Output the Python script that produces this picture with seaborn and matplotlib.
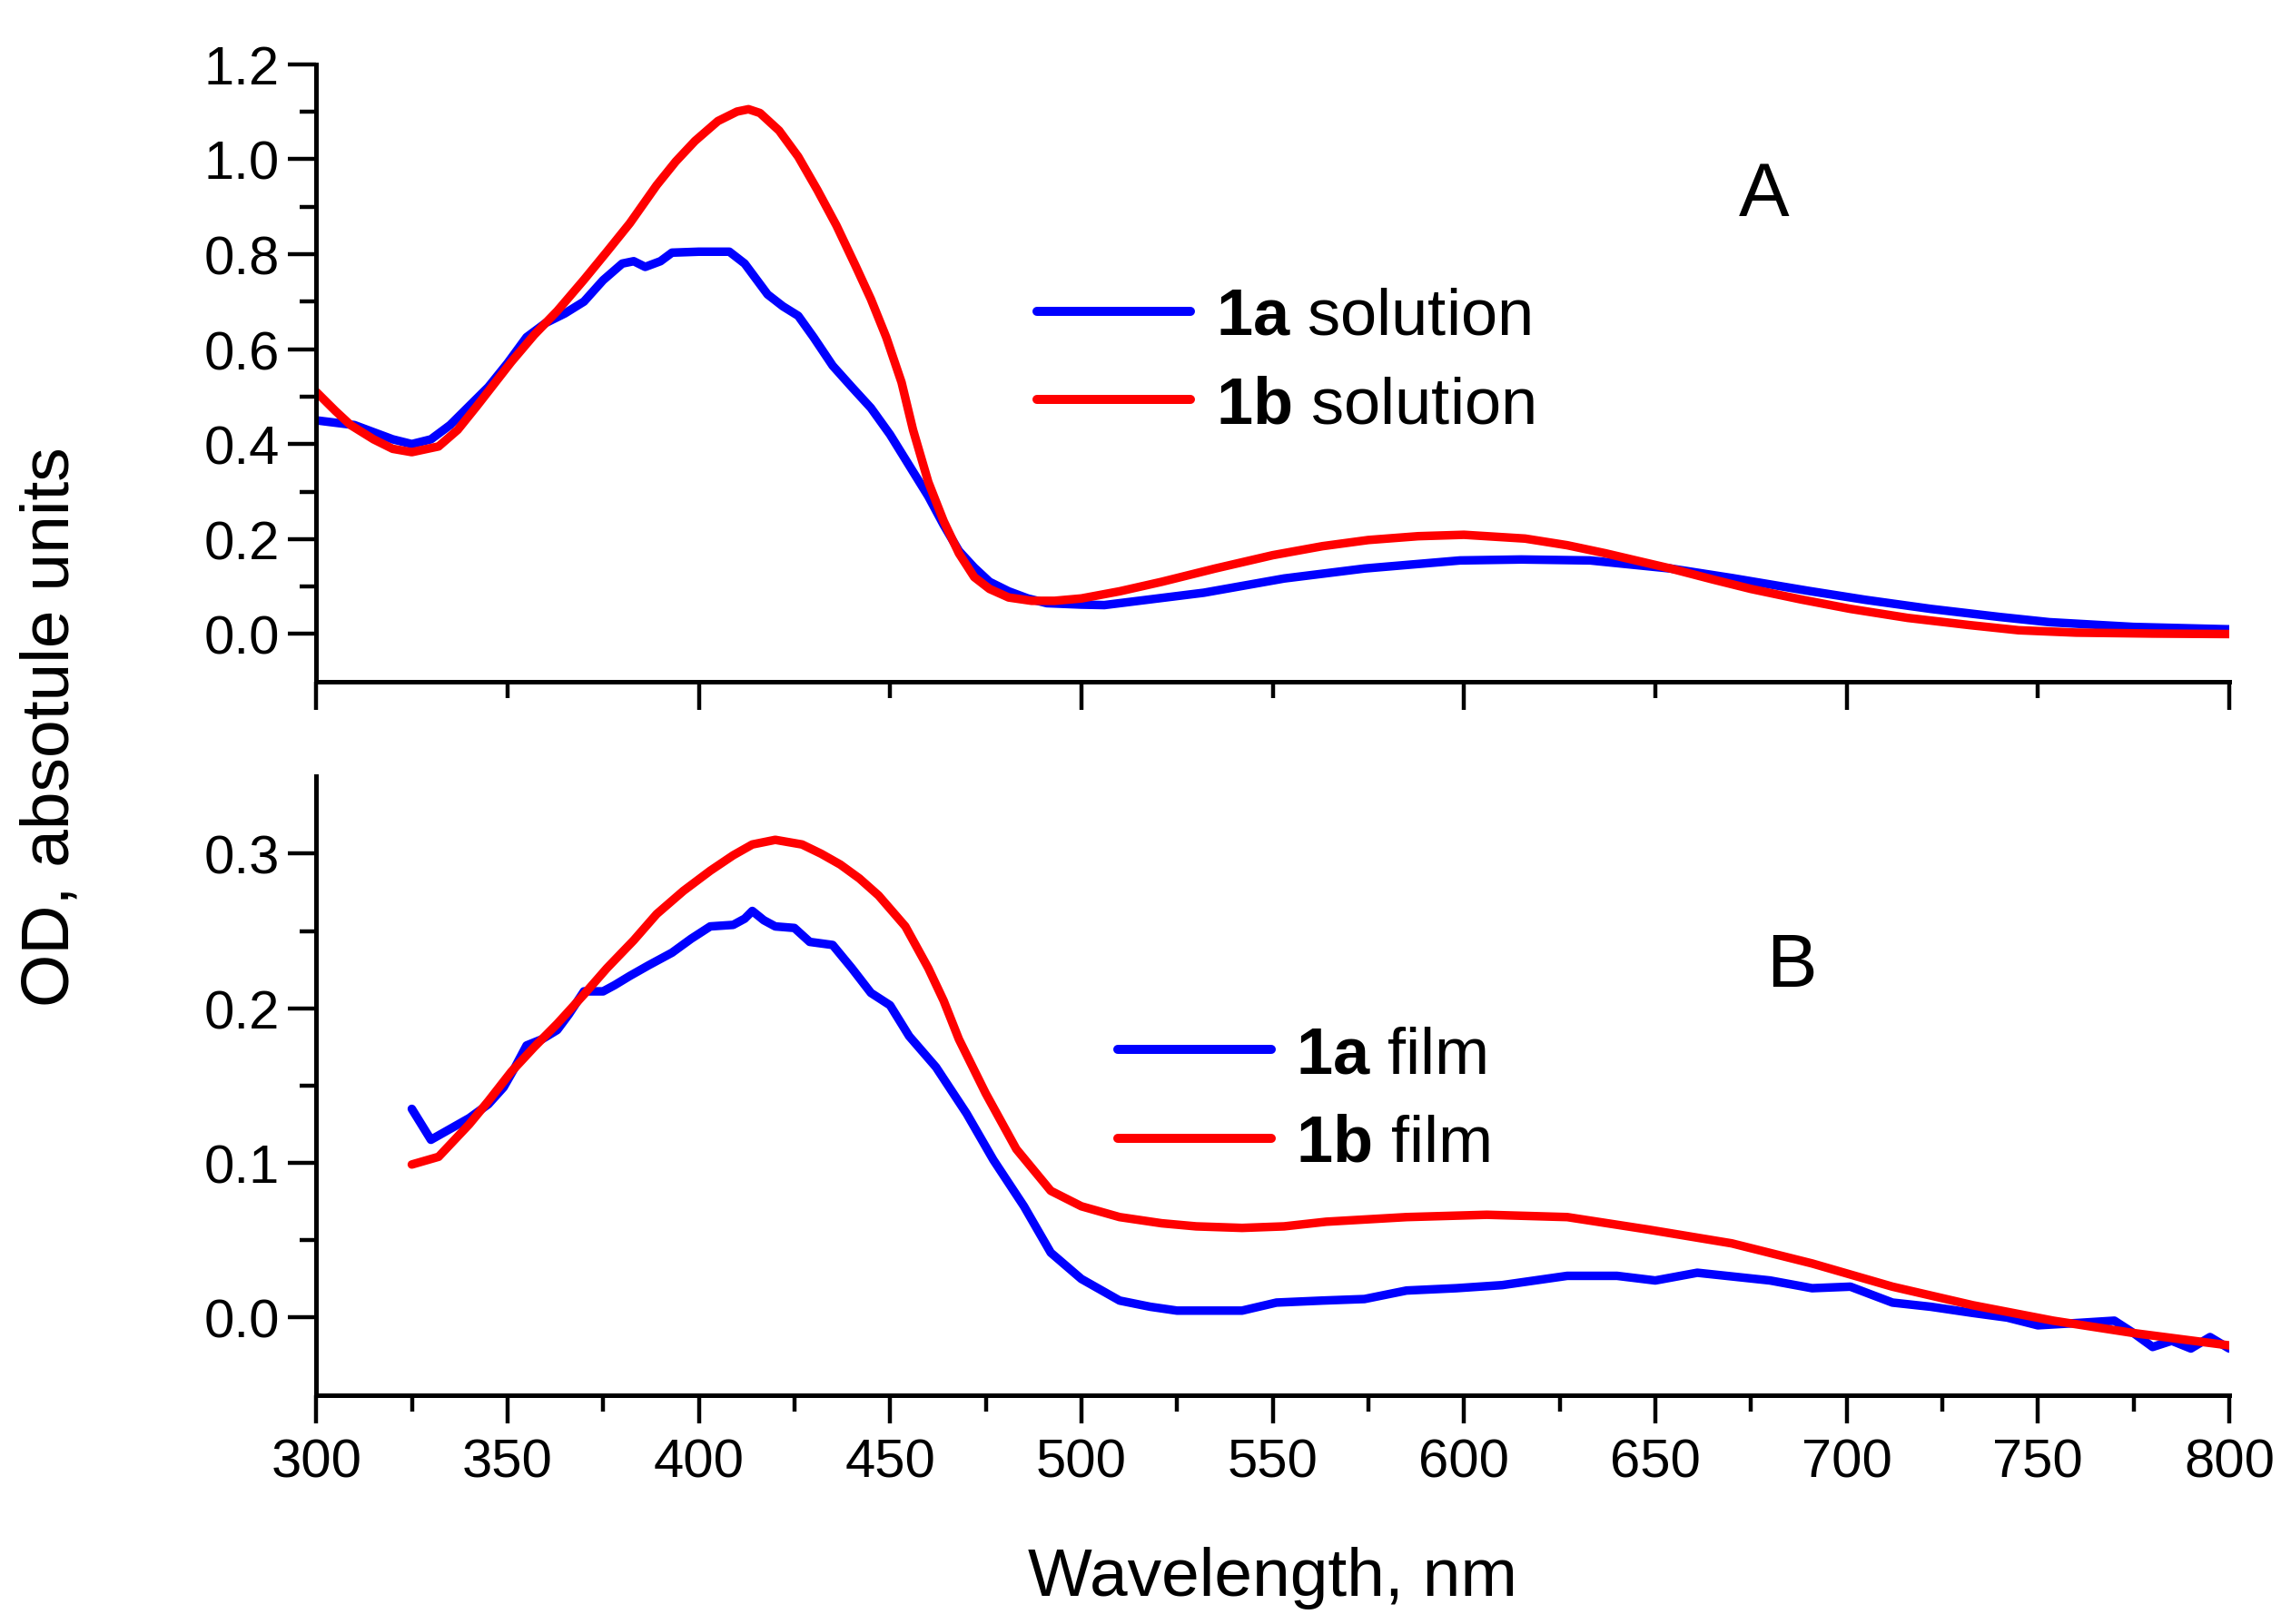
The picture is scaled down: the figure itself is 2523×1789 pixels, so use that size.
import matplotlib
matplotlib.use("Agg")
import matplotlib.pyplot as plt
import numpy as np
import pandas as pd
import seaborn as sns

# panel A: solutions
wl_sol_a = [300, 305, 310, 315, 320, 325, 330, 335, 340, 345, 350, 355, 360, 365, 370, 375,
            380, 383, 386, 390, 393, 400, 408, 412, 418, 422, 426, 430, 435, 440, 445, 450,
            455, 460, 464, 468, 472, 476, 481, 486, 491, 500, 506, 515, 532, 553, 574, 599,
            615, 633, 654, 670, 690, 705, 722, 740, 753, 775, 800]
od_sol_a = [0.45, 0.445, 0.44, 0.425, 0.41, 0.40, 0.41, 0.44, 0.48, 0.52, 0.57, 0.625, 0.655, 0.675, 0.70, 0.745,
            0.78, 0.785, 0.773, 0.785, 0.803, 0.805, 0.805, 0.78, 0.715, 0.69, 0.67, 0.625, 0.565, 0.52, 0.476, 0.42,
            0.355, 0.29, 0.23, 0.175, 0.14, 0.11, 0.09, 0.075, 0.065, 0.062, 0.061, 0.07, 0.087, 0.117, 0.138, 0.155,
            0.157, 0.155, 0.138, 0.118, 0.091, 0.072, 0.053, 0.036, 0.025, 0.015, 0.010]

wl_sol_b = [300, 305, 309, 315, 320, 325, 332, 337, 342, 351, 357, 363, 370, 376, 382, 389,
            394, 399, 405, 410, 413, 416, 421, 426, 431, 436, 441, 445, 449, 453, 456, 460,
            464, 468, 472, 476, 481, 487, 493, 500, 510, 521, 535, 550, 563, 575, 588, 600,
            616, 627, 637, 646, 654, 665, 675, 688, 701, 716, 732, 745, 760, 780, 800]
od_sol_b = [0.51, 0.47, 0.44, 0.41, 0.39, 0.383, 0.395, 0.43, 0.48, 0.573, 0.63, 0.68, 0.746, 0.805, 0.865, 0.945,
            0.995, 1.038, 1.08, 1.10, 1.105, 1.097, 1.06, 1.005, 0.935, 0.86, 0.775, 0.705, 0.625, 0.53, 0.43, 0.32,
            0.238, 0.17, 0.12, 0.095, 0.077, 0.07, 0.07, 0.075, 0.09, 0.11, 0.138, 0.166, 0.185, 0.198, 0.206, 0.209,
            0.201, 0.187, 0.17, 0.153, 0.138, 0.115, 0.095, 0.073, 0.053, 0.034, 0.019, 0.008, 0.003, 0.001, 0.0]

# panel B: films
wl_film_a = [325, 330, 335, 340, 345, 349, 352, 355, 359, 363, 366, 370, 375, 378, 382, 387,
             393, 398, 403, 409, 412, 414, 417, 420, 425, 429, 435, 440, 445, 450, 455, 462,
             470, 477, 485, 492, 500, 510, 518, 525, 542, 551, 563, 574, 585, 598, 610, 627,
             640, 650, 661, 680, 691, 701, 712, 722, 733, 742, 750, 761, 770, 775, 780, 785,
             790, 795, 800]
od_film_a = [0.135, 0.115, 0.122, 0.129, 0.138, 0.149, 0.162, 0.176, 0.18, 0.186, 0.196, 0.211, 0.211, 0.215, 0.221, 0.228,
             0.236, 0.245, 0.253, 0.254, 0.258, 0.263, 0.257, 0.253, 0.252, 0.243, 0.241, 0.226, 0.210, 0.202, 0.182, 0.162,
             0.132, 0.102, 0.072, 0.042, 0.025, 0.011, 0.007, 0.0045, 0.0045, 0.0097, 0.011, 0.012, 0.0175, 0.019, 0.021, 0.027,
             0.027, 0.024, 0.029, 0.024, 0.019, 0.02, 0.0097, 0.007, 0.003, 0.0, -0.005, -0.0034, -0.002, -0.01, -0.019, -0.015,
             -0.02, -0.0126, -0.02]

wl_film_b = [325, 332, 340, 345, 351, 357, 363, 370, 376, 383, 389, 396, 403, 409, 414, 420,
             427, 432, 437, 442, 447, 454, 460, 464, 468, 475, 483, 492, 500, 510, 521, 530,
             542, 553, 564, 585, 606, 627, 648, 670, 691, 712, 733, 754, 775, 800]
od_film_b = [0.099, 0.104, 0.125, 0.14, 0.159, 0.175, 0.19, 0.209, 0.226, 0.244, 0.261, 0.276, 0.289, 0.299, 0.306, 0.309,
             0.306, 0.300, 0.293, 0.284, 0.273, 0.253, 0.226, 0.205, 0.18, 0.145, 0.109, 0.082, 0.072, 0.065, 0.061, 0.059,
             0.058, 0.059, 0.062, 0.065, 0.0665, 0.065, 0.057, 0.048, 0.035, 0.020, 0.008, -0.002, -0.01, -0.018]

COLORS = {"1a": "#0000ff", "1b": "#ff0000"}


def frame(wl_a, od_a, wl_b, od_b):
    return pd.concat([
        pd.DataFrame({"wl": wl_a, "od": od_a, "sample": "1a"}),
        pd.DataFrame({"wl": wl_b, "od": od_b, "sample": "1b"}),
    ], ignore_index=True)


sns.set_style("ticks")
plt.rcParams["font.family"] = ["Liberation Sans", "DejaVu Sans"]
plt.rcParams["mathtext.fontset"] = "custom"
plt.rcParams["mathtext.bf"] = "Liberation Sans:bold"
plt.rcParams["mathtext.rm"] = "Liberation Sans"
for key in ["text.color", "axes.labelcolor", "xtick.color", "ytick.color", "axes.edgecolor"]:
    plt.rcParams[key] = "black"

fig = plt.figure(figsize=(12.615, 8.95), dpi=200)
ax1 = fig.add_axes([0.138, 0.580, 0.835, 0.380])
ax2 = fig.add_axes([0.138, 0.141, 0.835, 0.3806])

df_sol = frame(wl_sol_a, od_sol_a, wl_sol_b, od_sol_b)
df_film = frame(wl_film_a, od_film_a, wl_film_b, od_film_b)

for ax, df in [(ax1, df_sol), (ax2, df_film)]:
    sns.lineplot(data=df, x="wl", y="od", hue="sample", palette=COLORS,
                 linewidth=3.4, ax=ax, legend=False, sort=True)
    for s in ["top", "right"]:
        ax.spines[s].set_visible(False)
    for s in ["left", "bottom"]:
        ax.spines[s].set_linewidth(1.8)
    ax.set_xlim(300, 800)
    ax.set_xlabel("")
    ax.set_ylabel("")
    ax.tick_params(which="major", direction="out", length=11, width=1.6, labelsize=21.5)
    ax.tick_params(which="minor", direction="out", length=6.5, width=1.6)
    ax.tick_params(axis="x", which="major", pad=6)

# panel A ticks
ax1.set_ylim(-0.1, 1.2)
ax1.set_yticks(np.arange(0, 1.21, 0.2))
ax1.set_yticks(np.arange(0.1, 1.2, 0.2), minor=True)
ax1.yaxis.set_major_formatter(matplotlib.ticker.FormatStrFormatter("%.1f"))
ax1.set_xticks(np.arange(300, 801, 100))
ax1.set_xticks(np.arange(350, 800, 100), minor=True)
ax1.tick_params(axis="x", labelbottom=False)

# panel B ticks
ax2.set_ylim(-0.05, 0.35)
ax2.set_yticks(np.arange(0, 0.31, 0.1))
ax2.set_yticks(np.arange(0.05, 0.35, 0.1), minor=True)
ax2.yaxis.set_major_formatter(matplotlib.ticker.FormatStrFormatter("%.1f"))
ax2.set_xticks(np.arange(300, 801, 50))
ax2.set_xticks(np.arange(325, 800, 50), minor=True)
ax2.set_xlabel("Wavelength, nm", fontsize=27, labelpad=23)

# legends
leg_kw = dict(loc="upper left", frameon=False, fontsize=26, handlelength=2.34,
              handletextpad=0.38, labelspacing=0.42)
ax1.legend(handles=ax1.get_lines()[:2],
           labels=[r"$\mathbf{1a}$ solution", r"$\mathbf{1b}$ solution"],
           bbox_to_anchor=(0.346, 0.735), **leg_kw)
ax2.legend(handles=ax2.get_lines()[:2],
           labels=[r"$\mathbf{1a}$ film", r"$\mathbf{1b}$ film"],
           bbox_to_anchor=(0.388, 0.693), **leg_kw)
for ax in (ax1, ax2):
    for line in ax.get_legend().get_lines():
        line.set_linewidth(3.6)

ax1.text(0.757, 0.787, "A", transform=ax1.transAxes, fontsize=30, ha="center", va="center")
ax2.text(0.771, 0.693, "B", transform=ax2.transAxes, fontsize=30, ha="center", va="center")

fig.text(0.022, 0.553, "OD, absotule units", rotation=90, fontsize=27,
         ha="center", va="center")

fig.savefig("out.png", dpi=200, facecolor="white")
